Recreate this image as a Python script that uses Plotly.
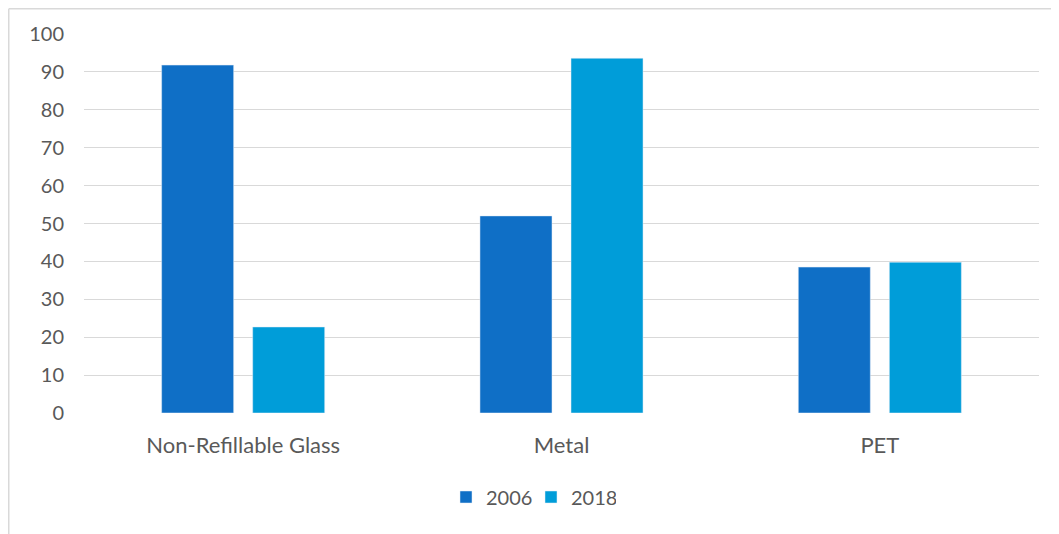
import plotly.graph_objects as go

categories = ["Non-Refillable Glass", "Metal", "PET"]
values_2006 = [91.8, 52.0, 38.5]
values_2018 = [22.7, 93.6, 39.8]

BLUE_2006 = "#0F6FC6"
BLUE_2018 = "#009DD9"
TEXT = "#595959"
GRID = "#d9d9d9"
FONT = "Lato, Carlito, Calibri, sans-serif"

fig = go.Figure()
fig.add_trace(go.Bar(x=categories, y=values_2006, name="2006", marker_color=BLUE_2006))
fig.add_trace(go.Bar(x=categories, y=values_2018, name="2018", marker_color=BLUE_2018))

# page has an 8px body margin, so everything is placed 8px up/left of the target
W, H = 1059, 534
L, R, T, B = 76, 28, 26, 129
pw, ph = W - L - R, H - T - B

fig.update_layout(
    width=W,
    height=H,
    margin=dict(l=L, r=R, t=T, b=B),
    paper_bgcolor="white",
    plot_bgcolor="white",
    barmode="group",
    bargap=0.428,
    bargroupgap=0.209,
    font=dict(family=FONT, size=20, color=TEXT),
    showlegend=True,
    legend=dict(
        orientation="h",
        x=(523 - L) / pw,
        xanchor="center",
        y=(H - B - 489) / ph,
        yanchor="middle",
        font=dict(size=20, color=TEXT),
        itemwidth=30,
        entrywidth=40,
        entrywidthmode="pixels",
    ),
)

fig.update_yaxes(
    range=[0, 100],
    dtick=10,
    showgrid=True,
    gridcolor=GRID,
    gridwidth=1,
    zeroline=False,
    showline=False,
    ticklabelstandoff=19,
    tickfont=dict(size=20, color=TEXT),
)
fig.update_xaxes(
    showgrid=False,
    showline=False,
    ticks="",
    ticklabelstandoff=17,
    tickfont=dict(size=22, color=TEXT),
)

# chart border (only top and left edges visible in the crop)
bx0 = (0.75 - L) / pw
by1 = (H - B - 0.75) / ph
fig.add_shape(type="line", xref="paper", yref="paper", x0=bx0, x1=(W - L) / pw + 0.01,
              y0=by1, y1=by1, line=dict(color=GRID, width=1.5))
fig.add_shape(type="line", xref="paper", yref="paper", x0=bx0, x1=bx0,
              y0=by1, y1=-B / ph - 0.01, line=dict(color=GRID, width=1.5))

fig.write_html("out.html")
